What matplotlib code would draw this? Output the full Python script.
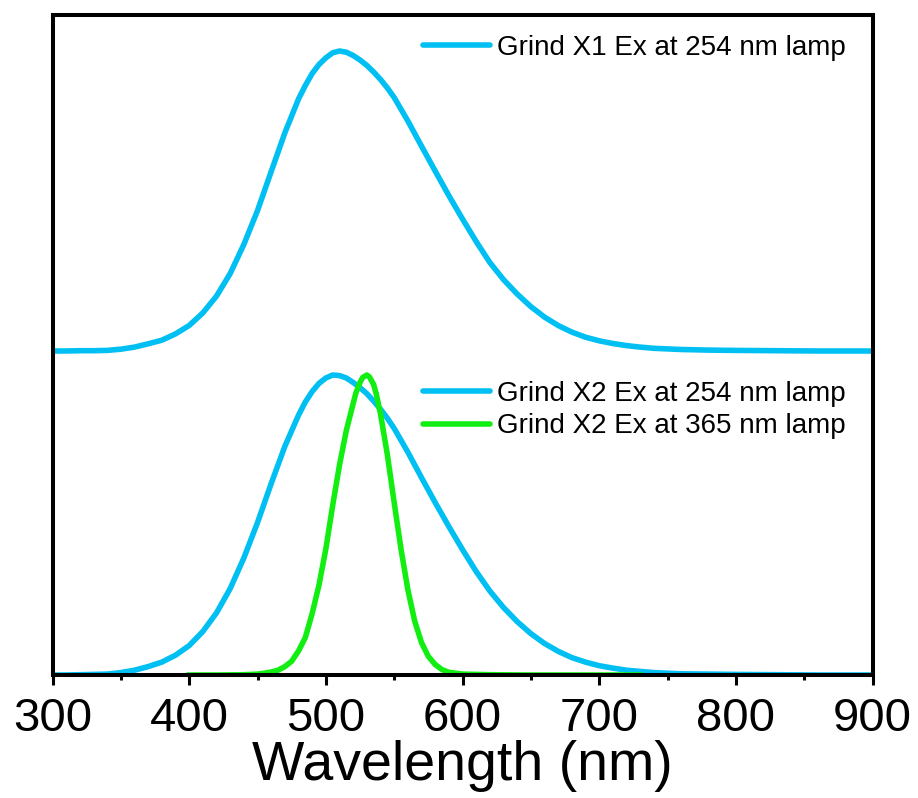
import matplotlib.pyplot as plt
from matplotlib.ticker import MultipleLocator

plt.rcParams['font.family'] = ['Liberation Sans', 'DejaVu Sans']

# wavelength grid (nm) and normalised emission of Grind X1 / X2 under the 254 nm lamp
wl_254 = [300, 310, 320, 330, 340, 350, 360, 370, 380, 390, 400, 410, 420, 430, 440,
          450, 460, 470, 480, 485, 490, 495, 500, 505, 510, 515, 520, 525, 530, 535,
          540, 545, 550, 560, 570, 580, 590, 600, 610, 620, 630, 640, 650, 660, 670,
          680, 690, 700, 710, 720, 730, 740, 750, 760, 780, 800, 830, 860, 900]
x1_254 = [0.000, 0.000, 0.001, 0.001, 0.002, 0.006, 0.013, 0.024, 0.036, 0.057, 0.085,
          0.127, 0.183, 0.258, 0.355, 0.468, 0.598, 0.727, 0.840, 0.885, 0.925, 0.955,
          0.977, 0.994, 1.000, 0.996, 0.985, 0.970, 0.952, 0.930, 0.905, 0.877, 0.845,
          0.767, 0.683, 0.600, 0.518, 0.440, 0.365, 0.295, 0.238, 0.190, 0.148, 0.113,
          0.085, 0.063, 0.046, 0.034, 0.025, 0.018, 0.013, 0.009, 0.007, 0.005, 0.003,
          0.002, 0.001, 0.000, 0.000]
x2_254 = [0.000, 0.000, 0.001, 0.002, 0.003, 0.008, 0.016, 0.028, 0.043, 0.066, 0.098,
          0.145, 0.207, 0.288, 0.390, 0.508, 0.638, 0.762, 0.866, 0.910, 0.945, 0.972,
          0.990, 1.000, 0.998, 0.990, 0.975, 0.958, 0.938, 0.913, 0.886, 0.856, 0.822,
          0.743, 0.658, 0.575, 0.495, 0.418, 0.345, 0.280, 0.225, 0.178, 0.138, 0.105,
          0.079, 0.058, 0.043, 0.031, 0.023, 0.016, 0.012, 0.008, 0.006, 0.004, 0.003,
          0.002, 0.001, 0.000, 0.000]

# Grind X2 under the 365 nm lamp
wl_365 = [400, 420, 440, 450, 455, 460, 465, 470, 475, 480, 485, 490, 495, 500, 505,
          510, 515, 520, 522, 525, 527, 530, 532, 535, 537, 540, 545, 550, 555, 560,
          565, 570, 575, 580, 585, 590, 600, 620, 650, 700, 730]
x2_365 = [0.000, 0.000, 0.001, 0.003, 0.006, 0.010, 0.016, 0.028, 0.046, 0.080, 0.125,
          0.205, 0.300, 0.420, 0.565, 0.700, 0.815, 0.905, 0.940, 0.975, 0.992, 1.000,
          0.993, 0.968, 0.935, 0.870, 0.735, 0.575, 0.420, 0.285, 0.180, 0.108, 0.062,
          0.035, 0.018, 0.009, 0.003, 0.001, 0.000, 0.000, 0.000]

offset = 1.08  # vertical shift of the X1 spectrum
blue = '#00BFF3'
green = '#12EE12'

fig = plt.figure(figsize=(9.18, 7.98), dpi=100)
ax = fig.add_axes([52.5 / 918, 123 / 798, 820 / 918, 660.3 / 798])

line_kw = dict(lw=4, solid_joinstyle='round')
l1, = ax.plot(wl_254, [v + offset for v in x1_254], color=blue,
              label='Grind X1 Ex at 254 nm lamp', **line_kw)
l2, = ax.plot(wl_254, x2_254, color=blue, label='Grind X2 Ex at 254 nm lamp', **line_kw)
l3, = ax.plot(wl_365, x2_365, color=green, label='Grind X2 Ex at 365 nm lamp', **line_kw)

ax.set_xlim(300, 900)
ax.set_ylim(0, 2.201)
ax.set_yticks([])
ax.xaxis.set_major_locator(MultipleLocator(100))
ax.xaxis.set_minor_locator(MultipleLocator(50))
ax.tick_params(axis='x', which='major', direction='out', length=7, width=2.2,
               labelsize=34, pad=9)
ax.tick_params(axis='x', which='minor', direction='out', length=3.5, width=2.2)
for s in ax.spines.values():
    s.set_linewidth(2.9)
ax.set_xlabel('Wavelength (nm)', fontsize=40, labelpad=-1)

leg_kw = dict(frameon=False, fontsize=20, handlelength=2.4, handletextpad=0.25,
              borderpad=0, borderaxespad=0, labelspacing=0.22, loc='center left')
leg1 = ax.legend(handles=[l1], bbox_to_anchor=(0.4524, 0.950), **leg_kw)
ax.add_artist(leg1)
leg2 = ax.legend(handles=[l2, l3], bbox_to_anchor=(0.4524, 0.401), **leg_kw)
for leg in (leg1, leg2):
    for h in leg.get_lines():
        h.set_solid_capstyle('round')

fig.savefig('out.png', dpi=100)
